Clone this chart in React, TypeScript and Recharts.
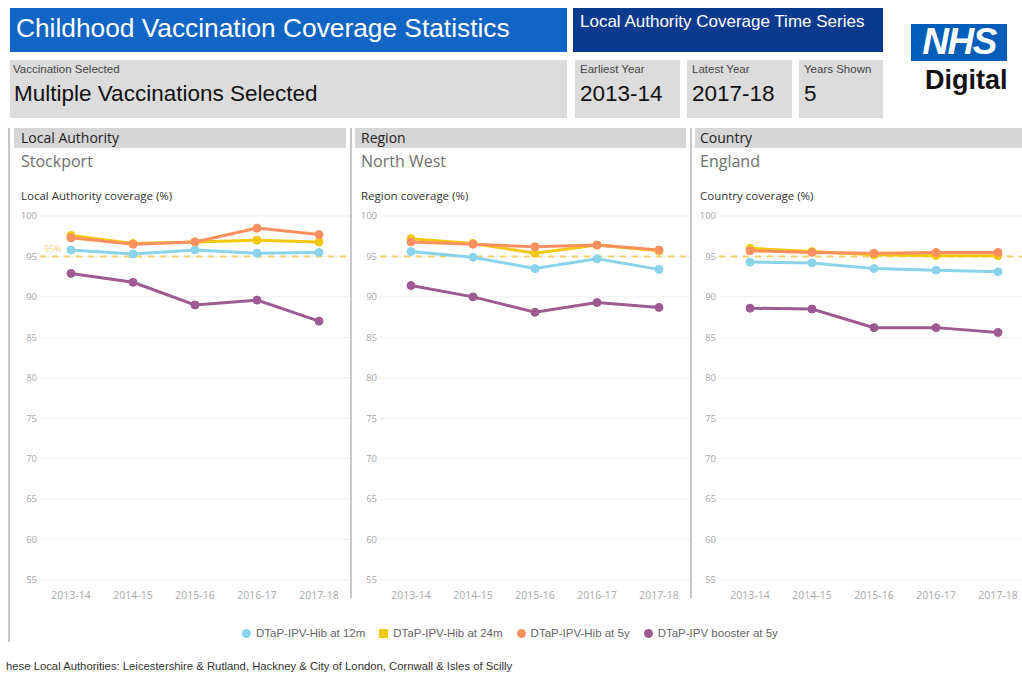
import React from 'react';
import { LineChart, Line, XAxis, YAxis, CartesianGrid, ReferenceLine } from 'recharts';

const years = ['2013-14', '2014-15', '2015-16', '2016-17', '2017-18'];
const yTicks = [55, 60, 65, 70, 75, 80, 85, 90, 95, 100];

const seriesNames = ['DTaP-IPV-Hib at 12m', 'DTaP-IPV-Hib at 24m', 'DTaP-IPV-Hib at 5y', 'DTaP-IPV booster at 5y'];
const seriesColors = ['#8AD4EB', '#F2C80F', '#FE9060', '#9E5B92'];
const seriesKeys = ['m12', 'm24', 'y5', 'boost'];

// Local Authority: Stockport
const laM12 = [95.8, 95.3, 95.8, 95.4, 95.5];
const laM24 = [97.6, 96.6, 96.8, 97.0, 96.8];
const laY5 = [97.3, 96.5, 96.8, 98.5, 97.7];
const laBoost = [92.9, 91.8, 89.0, 89.6, 87.0];

// Region: North West
const rgM12 = [95.6, 94.9, 93.5, 94.7, 93.4];
const rgM24 = [97.2, 96.6, 95.4, 96.4, 95.7];
const rgY5 = [96.8, 96.5, 96.2, 96.4, 95.8];
const rgBoost = [91.4, 90.0, 88.1, 89.3, 88.7];

// Country: England
const enM12 = [94.3, 94.2, 93.5, 93.3, 93.1];
const enM24 = [96.0, 95.6, 95.2, 95.1, 95.1];
const enY5 = [95.7, 95.5, 95.4, 95.5, 95.5];
const enBoost = [88.6, 88.5, 86.2, 86.2, 85.6];

const target = 95;

const build = (a: number[], b: number[], c: number[], d: number[]) =>
  years.map((y, i) => ({ year: y, m12: a[i], m24: b[i], y5: c[i], boost: d[i] }));

const panels = [
  { header: 'Local Authority', name: 'Stockport', axisTitle: 'Local Authority coverage (%)', data: build(laM12, laM24, laY5, laBoost), left: 10, width: 340, padRight: 31, showLabel: true, hdrL: 14, hdrW: 332, txtL: 21 },
  { header: 'Region', name: 'North West', axisTitle: 'Region coverage (%)', data: build(rgM12, rgM24, rgY5, rgBoost), left: 350, width: 340, padRight: 31, showLabel: false, hdrL: 355, hdrW: 331, txtL: 361 },
  { header: 'Country', name: 'England', axisTitle: 'Country coverage (%)', data: build(enM12, enM24, enY5, enBoost), left: 689, width: 333, padRight: 24, showLabel: false, hdrL: 695, hdrW: 327, txtL: 700 },
];

const FONT = '"Open Sans", "Noto Sans", sans-serif';
const ARIAL = '"Liberation Sans", Arial, sans-serif';

export default function App() {
  return (
    <div style={{ position: 'absolute', left: 0, top: 0, width: 1022, height: 678, overflow: 'hidden', background: '#fff', fontFamily: FONT }}>
      {/* Title bars */}
      <div style={{ position: 'absolute', left: 10, top: 8, width: 557, height: 44, background: '#1165C4' }}>
        <div style={{ position: 'absolute', left: 6, top: 5, color: '#fff', fontFamily: ARIAL, fontSize: 26.3, whiteSpace: 'nowrap' }}>Childhood Vaccination Coverage Statistics</div>
      </div>
      <div style={{ position: 'absolute', left: 573, top: 8, width: 310, height: 44, background: '#0A3A8E' }}>
        <div style={{ position: 'absolute', left: 7, top: 4, color: '#fff', fontFamily: ARIAL, fontSize: 17, whiteSpace: 'nowrap' }}>Local Authority Coverage Time Series</div>
      </div>

      {/* Info boxes */}
      <div style={{ position: 'absolute', left: 10, top: 60, width: 557, height: 58, background: '#DCDCDC' }}>
        <div style={{ position: 'absolute', left: 3, top: 3, fontSize: 11.5, color: '#444', fontFamily: ARIAL }}>Vaccination Selected</div>
        <div style={{ position: 'absolute', left: 4, top: 21, fontSize: 22.5, color: '#111', fontFamily: ARIAL, whiteSpace: 'nowrap' }}>Multiple Vaccinations Selected</div>
      </div>
      {[
        { l: 575, w: 105, t: 'Earliest Year', v: '2013-14' },
        { l: 687, w: 105, t: 'Latest Year', v: '2017-18' },
        { l: 799, w: 84, t: 'Years Shown', v: '5' },
      ].map((b) => (
        <div key={b.t} style={{ position: 'absolute', left: b.l, top: 60, width: b.w, height: 58, background: '#DCDCDC' }}>
          <div style={{ position: 'absolute', left: 5, top: 3, fontSize: 11.5, color: '#444', fontFamily: ARIAL, whiteSpace: 'nowrap' }}>{b.t}</div>
          <div style={{ position: 'absolute', left: 5, top: 21, fontSize: 22.5, color: '#111', fontFamily: ARIAL }}>{b.v}</div>
        </div>
      ))}

      {/* NHS logo */}
      <div style={{ position: 'absolute', left: 911, top: 24, width: 96, height: 37, background: '#005EB8' }}>
        <div style={{ position: 'absolute', left: 0, width: 96, top: -3, textAlign: 'center', color: '#fff', fontFamily: ARIAL, fontWeight: 'bold', fontStyle: 'italic', fontSize: 37, letterSpacing: -1.5 }}>NHS</div>
      </div>
      <div style={{ position: 'absolute', left: 925, top: 65, color: '#111', fontFamily: ARIAL, fontWeight: 'bold', fontSize: 27 }}>Digital</div>

      {/* Separators */}
      <div style={{ position: 'absolute', left: 8, top: 128, width: 2, height: 514, background: '#C8C8C8' }} />
      <div style={{ position: 'absolute', left: 350, top: 128, width: 2, height: 470, background: '#C8C8C8' }} />
      <div style={{ position: 'absolute', left: 690, top: 128, width: 2, height: 470, background: '#C8C8C8' }} />

      {panels.map((p) => (
        <React.Fragment key={p.header}>
          <div style={{ position: 'absolute', left: p.hdrL, top: 128, width: p.hdrW, height: 20, background: '#D6D6D6' }}>
            <div style={{ position: 'absolute', left: p.txtL - p.hdrL, top: 0, fontSize: 14, color: '#222', whiteSpace: 'nowrap' }}>{p.header}</div>
          </div>
          <div style={{ position: 'absolute', left: p.txtL, top: 150, fontSize: 16, color: '#707070', whiteSpace: 'nowrap' }}>{p.name}</div>
          <div style={{ position: 'absolute', left: p.txtL, top: 188, fontSize: 11.5, color: '#333', whiteSpace: 'nowrap' }}>{p.axisTitle}</div>
          <div style={{ position: 'absolute', left: p.left, top: 206 }}>
            <LineChart width={p.width} height={404} data={p.data} margin={{ top: 10, right: 0, bottom: 0, left: 0 }}>
              <CartesianGrid vertical={false} stroke="#EFEFEF" />
              <XAxis
                dataKey="year"
                axisLine={false}
                tickLine={false}
                tickSize={0}
                tickMargin={12}
                height={30}
                interval={0}
                padding={{ left: 31, right: p.padRight }}
                tick={{ fontSize: 10.5, fill: '#A8A8A8', fontFamily: FONT }}
              />
              <YAxis
                domain={[55, 100]}
                ticks={yTicks}
                axisLine={false}
                tickLine={false}
                tickSize={0}
                tickMargin={3}
                width={30}
                interval={0}
                tick={{ fontSize: 9.5, fill: '#A8A8A8', fontFamily: FONT }}
              />
              <ReferenceLine
                y={target}
                stroke="#F5C842"
                strokeOpacity={0.8}
                strokeWidth={2}
                strokeDasharray="6 6"
                label={p.showLabel ? { value: '95%', position: 'insideBottomLeft', fill: '#F3D780', fontSize: 9, offset: 4 } : undefined}
              />
              {seriesKeys.map((k, i) => (
                <Line
                  key={k}
                  dataKey={k}
                  name={seriesNames[i]}
                  stroke={seriesColors[i]}
                  strokeWidth={3}
                  dot={{ r: 4, fill: seriesColors[i], stroke: seriesColors[i], strokeWidth: 1 }}
                  isAnimationActive={false}
                />
              ))}
            </LineChart>
          </div>
        </React.Fragment>
      ))}

      {/* Legend */}
      <div style={{ position: 'absolute', left: 242, top: 627, display: 'flex', alignItems: 'center' }}>
        {seriesNames.map((n, i) => (
          <div key={n} style={{ display: 'flex', alignItems: 'center', marginRight: 14 }}>
            <div style={{ width: 9, height: 9, borderRadius: i === 1 ? 1 : 5, background: seriesColors[i], marginRight: 5 }} />
            <span style={{ fontSize: 11.5, color: '#666', whiteSpace: 'nowrap', fontFamily: ARIAL }}>{n}</span>
          </div>
        ))}
      </div>

      {/* Footer */}
      <div style={{ position: 'absolute', left: 6, top: 660, fontSize: 11.3, color: '#333', fontFamily: ARIAL, whiteSpace: 'nowrap' }}>hese Local Authorities: Leicestershire &amp; Rutland, Hackney &amp; City of London, Cornwall &amp; Isles of Scilly</div>
    </div>
  );
}
